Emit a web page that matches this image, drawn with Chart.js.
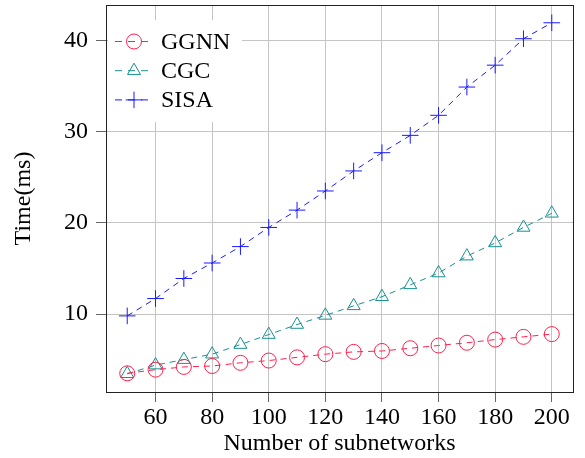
<!DOCTYPE html>
<html>
<head>
<meta charset="utf-8">
<script src="https://cdn.jsdelivr.net/npm/chart.js@4/dist/chart.umd.min.js"></script>
<style>
  html, body { margin: 0; padding: 0; background: #fff; }
  #wrap { width: 585px; height: 458px; }
</style>
</head>
<body>
<div id="wrap"><canvas id="chart"></canvas></div>
<script>
const subnetworks = [50, 60, 70, 80, 90, 100, 110, 120, 130, 140, 150, 160, 170, 180, 190, 200];
const ggnn = [3.5, 3.9, 4.2, 4.3, 4.65, 4.9, 5.25, 5.6, 5.85, 5.95, 6.25, 6.55, 6.85, 7.2, 7.5, 7.8];
const cgc = [3.45, 4.4, 5.0, 5.6, 6.65, 7.75, 8.85, 9.85, 10.9, 11.9, 13.2, 14.5, 16.35, 17.8, 19.5, 21.05];
const sisa = [9.8, 11.7, 13.9, 15.6, 17.4, 19.5, 21.4, 23.5, 25.7, 27.7, 29.6, 31.8, 34.9, 37.3, 40.2, 41.95];
const xTicks = [60, 80, 100, 120, 140, 160, 180, 200];
const yTicks = [10, 20, 30, 40];

const serif = "'Liberation Serif', 'DejaVu Serif', serif";

function pts(values) {
    return subnetworks.map((x, i) => ({ x: x, y: values[i] }));
}

function series(label, values, color, style, radius) {
    return {
        label: label,
        data: pts(values),
        borderColor: color,
        borderWidth: 1,
        borderDash: [6, 5],
        pointStyle: style,
        pointRadius: radius,
        pointHoverRadius: radius,
        pointBorderColor: color,
        pointBackgroundColor: 'rgba(0,0,0,0)',
        pointBorderWidth: 1,
        tension: 0,
        fill: false
    };
}

// legend inside the plot + the closed frame
const boxPlugin = {
    id: 'boxPlugin',
    afterDraw(chart) {
        const ctx = chart.ctx;
        const a = chart.chartArea;
        ctx.save();
        ctx.fillStyle = '#fff';
        ctx.fillRect(108, 20, 134, 102);
        chart.data.datasets.forEach((ds, i) => {
            const y = 41.5 + i * 29.2;
            ctx.strokeStyle = ds.borderColor;
            ctx.lineWidth = 1;
            ctx.setLineDash([7, 6]);
            ctx.beginPath();
            ctx.moveTo(115, y);
            ctx.lineTo(153, y);
            ctx.stroke();
            ctx.setLineDash([]);
            ctx.fillStyle = 'rgba(0,0,0,0)';
            Chart.helpers.drawPoint(ctx, {
                pointStyle: ds.pointStyle,
                radius: ds.pointRadius,
                borderWidth: 1,
                rotation: 0
            }, 134, y);
            ctx.fillStyle = '#000';
            ctx.font = '24px ' + serif;
            ctx.textAlign = 'left';
            ctx.textBaseline = 'middle';
            ctx.fillText(ds.label, 161, y + 1);
        });
        ctx.strokeStyle = '#222';
        ctx.lineWidth = 1;
        ctx.strokeRect(Math.round(a.left) + 0.5, Math.round(a.top) + 0.5,
            Math.round(a.right - a.left), Math.round(a.bottom - a.top));
        ctx.restore();
    }
};

new Chart(document.getElementById('chart'), {
    type: 'line',
    data: {
        datasets: [
            series('GGNN', ggnn, '#ff1f4b', 'circle', 7.5),
            series('CGC', cgc, '#17908f', 'triangle', 7.5),
            series('SISA', sisa, '#1a1aff', 'cross', 8.3)
        ]
    },
    options: {
        responsive: true,
        maintainAspectRatio: false,
        animation: false,
        layout: { autoPadding: false, padding: { top: 5, right: 12, left: 0, bottom: 0 } },
        plugins: {
            legend: { display: false },
            tooltip: { enabled: false }
        },
        scales: {
            x: {
                type: 'linear',
                min: 42.5,
                max: 207.5,
                afterFit(scale) {
                    scale.height = 66;
                    scale.paddingLeft = 0;
                    scale.paddingRight = 0;
                },
                afterBuildTicks(scale) { scale.ticks = xTicks.map(v => ({ value: v })); },
                grid: { color: '#c4c4c4', tickColor: '#666', tickLength: 10, lineWidth: 1 },
                border: { display: false },
                ticks: { color: '#000', padding: 1, maxRotation: 0, font: { family: serif, size: 24 } },
                title: {
                    display: true,
                    text: 'Number of subnetworks',
                    color: '#000',
                    padding: 0,
                    font: { family: serif, size: 24 }
                }
            },
            y: {
                type: 'linear',
                min: 1.45,
                max: 43.9,
                afterFit(scale) {
                    scale.width = 106;
                    scale.paddingTop = 0;
                    scale.paddingBottom = 0;
                },
                afterBuildTicks(scale) { scale.ticks = yTicks.map(v => ({ value: v })); },
                grid: { color: '#c4c4c4', tickColor: '#666', tickLength: 10, lineWidth: 1 },
                border: { display: false },
                ticks: { color: '#000', padding: 8, font: { family: serif, size: 24 } },
                title: {
                    display: true,
                    text: 'Time(ms)',
                    color: '#000',
                    padding: { top: 9, bottom: 0 },
                    font: { family: serif, size: 24 }
                }
            }
        }
    },
    plugins: [boxPlugin]
});
</script>
</body>
</html>
